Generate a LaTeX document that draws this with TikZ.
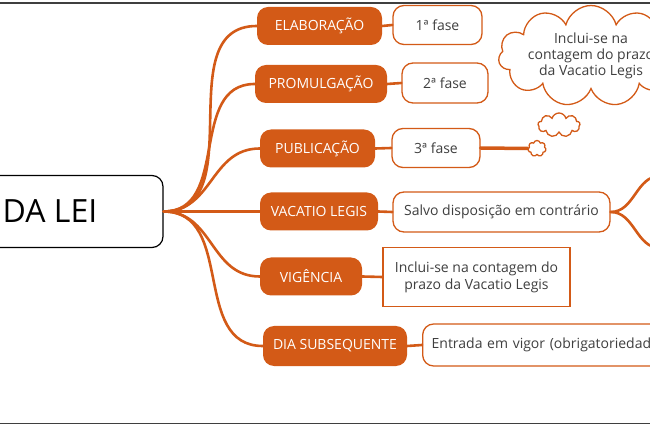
\documentclass[tikz,border=0pt]{standalone}
\usepackage{fontspec}
\setmainfont{Open Sans}
\usetikzlibrary{shapes.symbols}

\definecolor{laranja}{HTML}{D35A17}
\definecolor{grafite}{HTML}{3F3F3F}

\tikzset{
    raiz/.style={draw=black, line width=1.2pt, rounded corners=11pt, fill=white,
        minimum width=226pt, minimum height=72pt, font=\fontsize{32}{36}\selectfont},
    ramo/.style={fill=laranja, text=white, rounded corners=11pt, minimum height=38pt,
        inner sep=2pt, font=\fontsize{14}{16}\selectfont},
    caixa/.style={draw=laranja, line width=1.3pt, fill=white, rounded corners=11pt,
        minimum height=39pt, text=grafite, inner sep=2pt, font=\fontsize{14}{17}\selectfont},
    galho/.style={draw=laranja, line width=2.6pt, line cap=round},
    nuvem/.style={cloud, draw=laranja, line width=1.3pt, fill=white, cloud ignores aspect},
}

\begin{document}
\begin{tikzpicture}[x=1pt, y=-1pt]
    \useasboundingbox (0,0) rectangle (650,427);

    % Frame lines
    \draw[grafite, line width=1.6pt] (0,3) -- (650,3);
    \draw[grafite, line width=1.6pt] (0,423.5) -- (650,423.5);

    % Central node
    \node[raiz] (lei) at (50,211.5) {DA LEI};

    % Orange branches
    \node[ramo, minimum width=125pt] (elab) at (319.5,26) {ELABORAÇÃO};
    \node[ramo, minimum width=132pt] (prom) at (321,84) {PROMULGAÇÃO};
    \node[ramo, minimum width=115pt] (publ) at (317.5,148.5) {PUBLICAÇÃO};
    \node[ramo, minimum width=118pt] (vaca) at (319,211.5) {VACATIO LEGIS};
    \node[ramo, minimum width=102pt] (vige) at (311,276.5) {VIGÊNCIA};
    \node[ramo, minimum width=144pt, minimum height=40pt] (dias) at (335,346) {DIA SUBSEQUENTE};

    % Boxes on the right
    \node[caixa, minimum width=89pt] (fase1) at (437.5,25) {1ª fase};
    \node[caixa, minimum width=86pt, minimum height=40pt] (fase2) at (445,83) {2ª fase};
    \node[caixa, minimum width=88pt] (fase3) at (436,148) {3ª fase};
    \node[caixa, minimum width=217pt, minimum height=40pt] (salvo) at (501.5,212) {Salvo disposição em contrário};
    \node[caixa, rounded corners=0pt, minimum width=187pt, minimum height=59pt, align=center]
        (prazo) at (476.5,277) {Inclui-se na contagem do\\prazo da Vacatio Legis};
    \node[caixa, anchor=west, minimum height=42pt, inner xsep=9pt, text width=250pt] (vigor) at (422,345)
        {Entrada em vigor (obrigatoriedade)};

    % Clouds
    \node[nuvem, cloud puffs=11, minimum width=184pt, minimum height=100pt, align=center,
        text=grafite, inner sep=0pt, font=\fontsize{14}{16}\selectfont]
        (balao) at (591,56) {Inclui-se na\\contagem do prazo\\da Vacatio Legis};
    \node[nuvem, cloud puffs=9, minimum width=42pt, minimum height=24pt] (bolhaA) at (559,125) {};
    \node[nuvem, cloud puffs=7, minimum width=18pt, minimum height=16pt] (bolhaB) at (537,148.5) {};

    % Connectors from the root
    \foreach \n in {elab,prom,publ,vige,dias}
        \draw[galho] (lei.east) to[out=0, in=180, looseness=1.1] (\n.west);
    \draw[galho] (lei.east) -- (vaca.west);

    % Connectors to the boxes
    \draw[galho] (elab.east) -- (fase1.west);
    \draw[galho] (prom.east) -- (fase2.west);
    \draw[galho] (publ.east) -- (fase3.west);
    \draw[galho] (vaca.east) -- (salvo.west);
    \draw[galho] (vige.east) -- (prazo.west);
    \draw[galho] (dias.east) -- (vigor.west);
    \draw[galho, line width=3.5pt] (fase3.east) -- (bolhaB.west);

    % Branch going out on the right
    \coordinate (cima) at (660,176);
    \coordinate (baixo) at (660,248);
    \draw[galho] (salvo.east) to[out=0, in=180] (cima);
    \draw[galho] (salvo.east) to[out=0, in=180] (baixo);
\end{tikzpicture}
\end{document}
